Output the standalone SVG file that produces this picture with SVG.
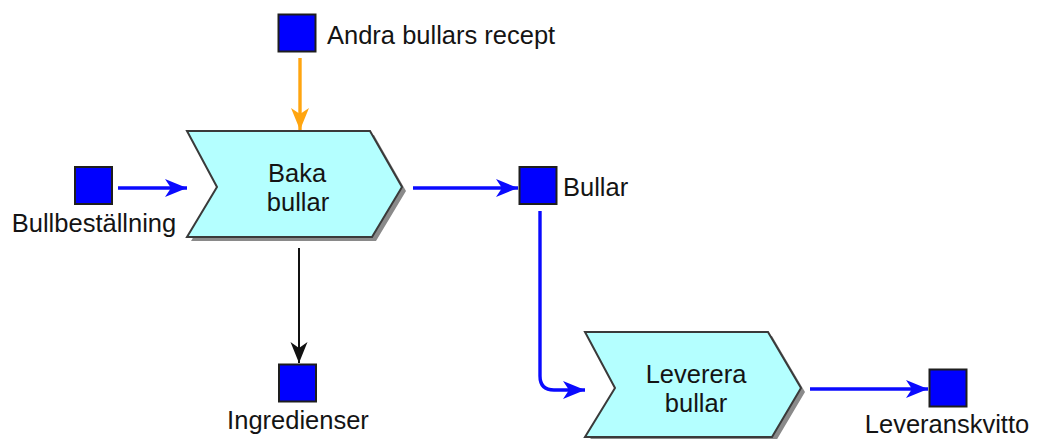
<svg xmlns="http://www.w3.org/2000/svg" width="1039" height="439" viewBox="0 0 1039 439">
  <style>
    .lbl { font-family: "Liberation Sans", Arial, sans-serif; font-size: 25.5px; fill: #141414; }
    .mid { text-anchor: middle; }
    .fn { fill: #b4ffff; stroke: #3a3a3a; stroke-width: 2; stroke-linejoin: miter; }
    .shadow { fill: #8a8a8a; }
    .ev { fill: #0000ff; stroke: #1e1e1e; stroke-width: 2; }
    .flow { fill: none; stroke-width: 3.4; }
    .blue { stroke: #0a0aff; }
    .orange { stroke: #ffa510; }
    .black { stroke: #111; stroke-width: 2; }
  </style>
  <defs>
    <marker id="arrBlue" markerUnits="userSpaceOnUse" viewBox="-23 -10 25 20" refX="0" refY="0" markerWidth="25" markerHeight="20" orient="auto">
      <path d="M0,0 L-22,-9 L-16,0 L-22,9 Z" fill="#0a0aff"/>
    </marker>
    <marker id="arrOrange" markerUnits="userSpaceOnUse" viewBox="-23 -10 25 20" refX="0" refY="0" markerWidth="25" markerHeight="20" orient="auto">
      <path d="M0,0 L-22,-9 L-16,0 L-22,9 Z" fill="#ffa510"/>
    </marker>
    <marker id="arrBlack" markerUnits="userSpaceOnUse" viewBox="-23 -10 25 20" refX="0" refY="0" markerWidth="25" markerHeight="20" orient="auto">
      <path d="M0,0 L-21,-8.5 L-15,0 L-21,8.5 Z" fill="#111"/>
    </marker>
  </defs>

  <rect width="1039" height="439" fill="#ffffff"/>

  <!-- connectors -->
  <g id="connectors">
    <path class="flow orange" d="M300,58 V130" marker-end="url(#arrOrange)"/>
    <path class="flow blue" d="M118,188 H187" marker-end="url(#arrBlue)"/>
    <path class="flow blue" d="M413,188 H518" marker-end="url(#arrBlue)"/>
    <path class="flow blue" d="M540,211 V376 Q540,390 554,390 H585" marker-end="url(#arrBlue)"/>
    <path class="flow blue" d="M810,389 H928" marker-end="url(#arrBlue)"/>
    <path class="flow black" d="M299,248 V363" marker-end="url(#arrBlack)"/>
  </g>

  <!-- functions -->
  <g id="baka-bullar">
    <polygon class="shadow" points="191,135 374,135 406,191 376,241 191,241 221,191"/>
    <polygon class="fn" points="187,131 370,131 402,187 372,237 187,237 217,187"/>
    <text class="lbl mid" x="297" y="182">Baka</text>
    <text class="lbl mid" x="298" y="211">bullar</text>
  </g>

  <g id="leverera-bullar">
    <polygon class="shadow" points="589,336 772,336 805,392 776,441 589,441 619,392"/>
    <polygon class="fn" points="585,332 768,332 801,388 772,437 585,437 615,388"/>
    <text class="lbl mid" x="696" y="383">Leverera</text>
    <text class="lbl mid" x="696" y="412">bullar</text>
  </g>

  <!-- events -->
  <g id="andra-bullars-recept">
    <rect class="ev" x="278.5" y="14.5" width="37" height="37"/>
    <text class="lbl" x="327" y="44">Andra bullars recept</text>
  </g>

  <g id="bullbestallning">
    <rect class="ev" x="75" y="167" width="37" height="37"/>
    <text class="lbl mid" x="94" y="232">Bullbeställning</text>
  </g>

  <g id="bullar">
    <rect class="ev" x="519.5" y="167" width="37" height="37"/>
    <text class="lbl" x="563" y="196">Bullar</text>
  </g>

  <g id="ingredienser">
    <rect class="ev" x="279" y="364.5" width="37" height="37"/>
    <text class="lbl mid" x="298" y="429">Ingredienser</text>
  </g>

  <g id="leveranskvitto">
    <rect class="ev" x="929.5" y="369.5" width="37" height="37"/>
    <text class="lbl mid" x="947" y="433">Leveranskvitto</text>
  </g>
</svg>
